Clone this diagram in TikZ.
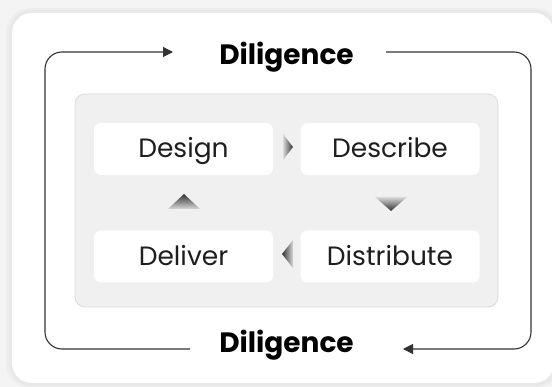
\documentclass[tikz,border=0pt]{standalone}
\usepackage{fontspec}
\setmainfont{Poppins}
\usetikzlibrary{arrows.meta}
\definecolor{pagebg}{HTML}{F4F4F4}
\definecolor{panelfill}{HTML}{F0F0F0}
\definecolor{panelline}{HTML}{DADADA}
\definecolor{ink}{HTML}{1E1E1E}
\definecolor{loopline}{HTML}{333333}
\tikzset{
  stagebox/.style={fill=white, rounded corners=7pt, minimum width=179pt,
    minimum height=52pt, inner sep=0pt, text=ink},
  stagetext/.style={font=\fontsize{26.5}{30}\selectfont, text=ink, anchor=base, inner sep=0pt},
  looplabel/.style={font=\fontsize{28}{32}\selectfont\bfseries, text=black, anchor=base, inner sep=0pt},
  loopline/.style={draw=loopline, line width=1.1pt, rounded corners=17pt,
    -{Triangle[length=10pt,width=10pt]}},
}
\begin{document}
\begin{tikzpicture}[x=1pt,y=-1pt]
  % page and card with a faint edge shadow
  \fill[pagebg] (0,0) rectangle (552,387);
  \useasboundingbox (0,0) rectangle (552,387);
  \fill[black, opacity=0.025, rounded corners=24pt] (6,8) rectangle (560,388);
  \fill[black, opacity=0.025, rounded corners=22pt] (9,10) rectangle (558,386);
  \fill[white, rounded corners=20pt] (12,13) rectangle (554,383);
  % inner panel
  \draw[panelline, fill=panelfill, line width=0.8pt, rounded corners=10pt] (75,94) rectangle (498,307);
  % stages: white boxes with their labels set on a common baseline
  \node[stagebox] (design)     at (183.5,149)   {};
  \node[stagebox] (describe)   at (390,149)     {};
  \node[stagebox] (deliver)    at (183.5,256.5) {};
  \node[stagebox] (distribute) at (390,256.5)   {};
  \node[stagetext] at ([yshift=-9pt]design.center)     {Design};
  \node[stagetext] at ([yshift=-9pt]describe.center)   {Describe};
  \node[stagetext] at ([yshift=-9pt]deliver.center)    {Deliver};
  \node[stagetext] at ([yshift=-9pt]distribute.center) {Distribute};
  % chevrons between stages
  \shade[left color=black!15, right color=black!80] (283,134) -- (293,147) -- (283,160) -- cycle;
  \shade[top color=black!15, bottom color=black!80] (375,197) -- (407,197) -- (391,211) -- cycle;
  \shade[right color=black!15, left color=black!80] (293,240) -- (282,254) -- (293,268) -- cycle;
  \shade[bottom color=black!15, top color=black!80] (168,209) -- (184,194) -- (200,209) -- cycle;
  % diligence loop
  \node[looplabel] (top) at (286.5,65)  {Diligence};
  \node[looplabel] (bot) at (286.5,353) {Diligence};
  \coordinate (topin)   at (173,52);
  \coordinate (topout)  at (386,52);
  \coordinate (botin)   at (403,349);
  \coordinate (botout)  at (190,349);
  \draw[loopline] (botout) -| (45,52) -- (topin);
  \draw[loopline] (topout) -| (531,349) -- (botin);
\end{tikzpicture}
\end{document}
